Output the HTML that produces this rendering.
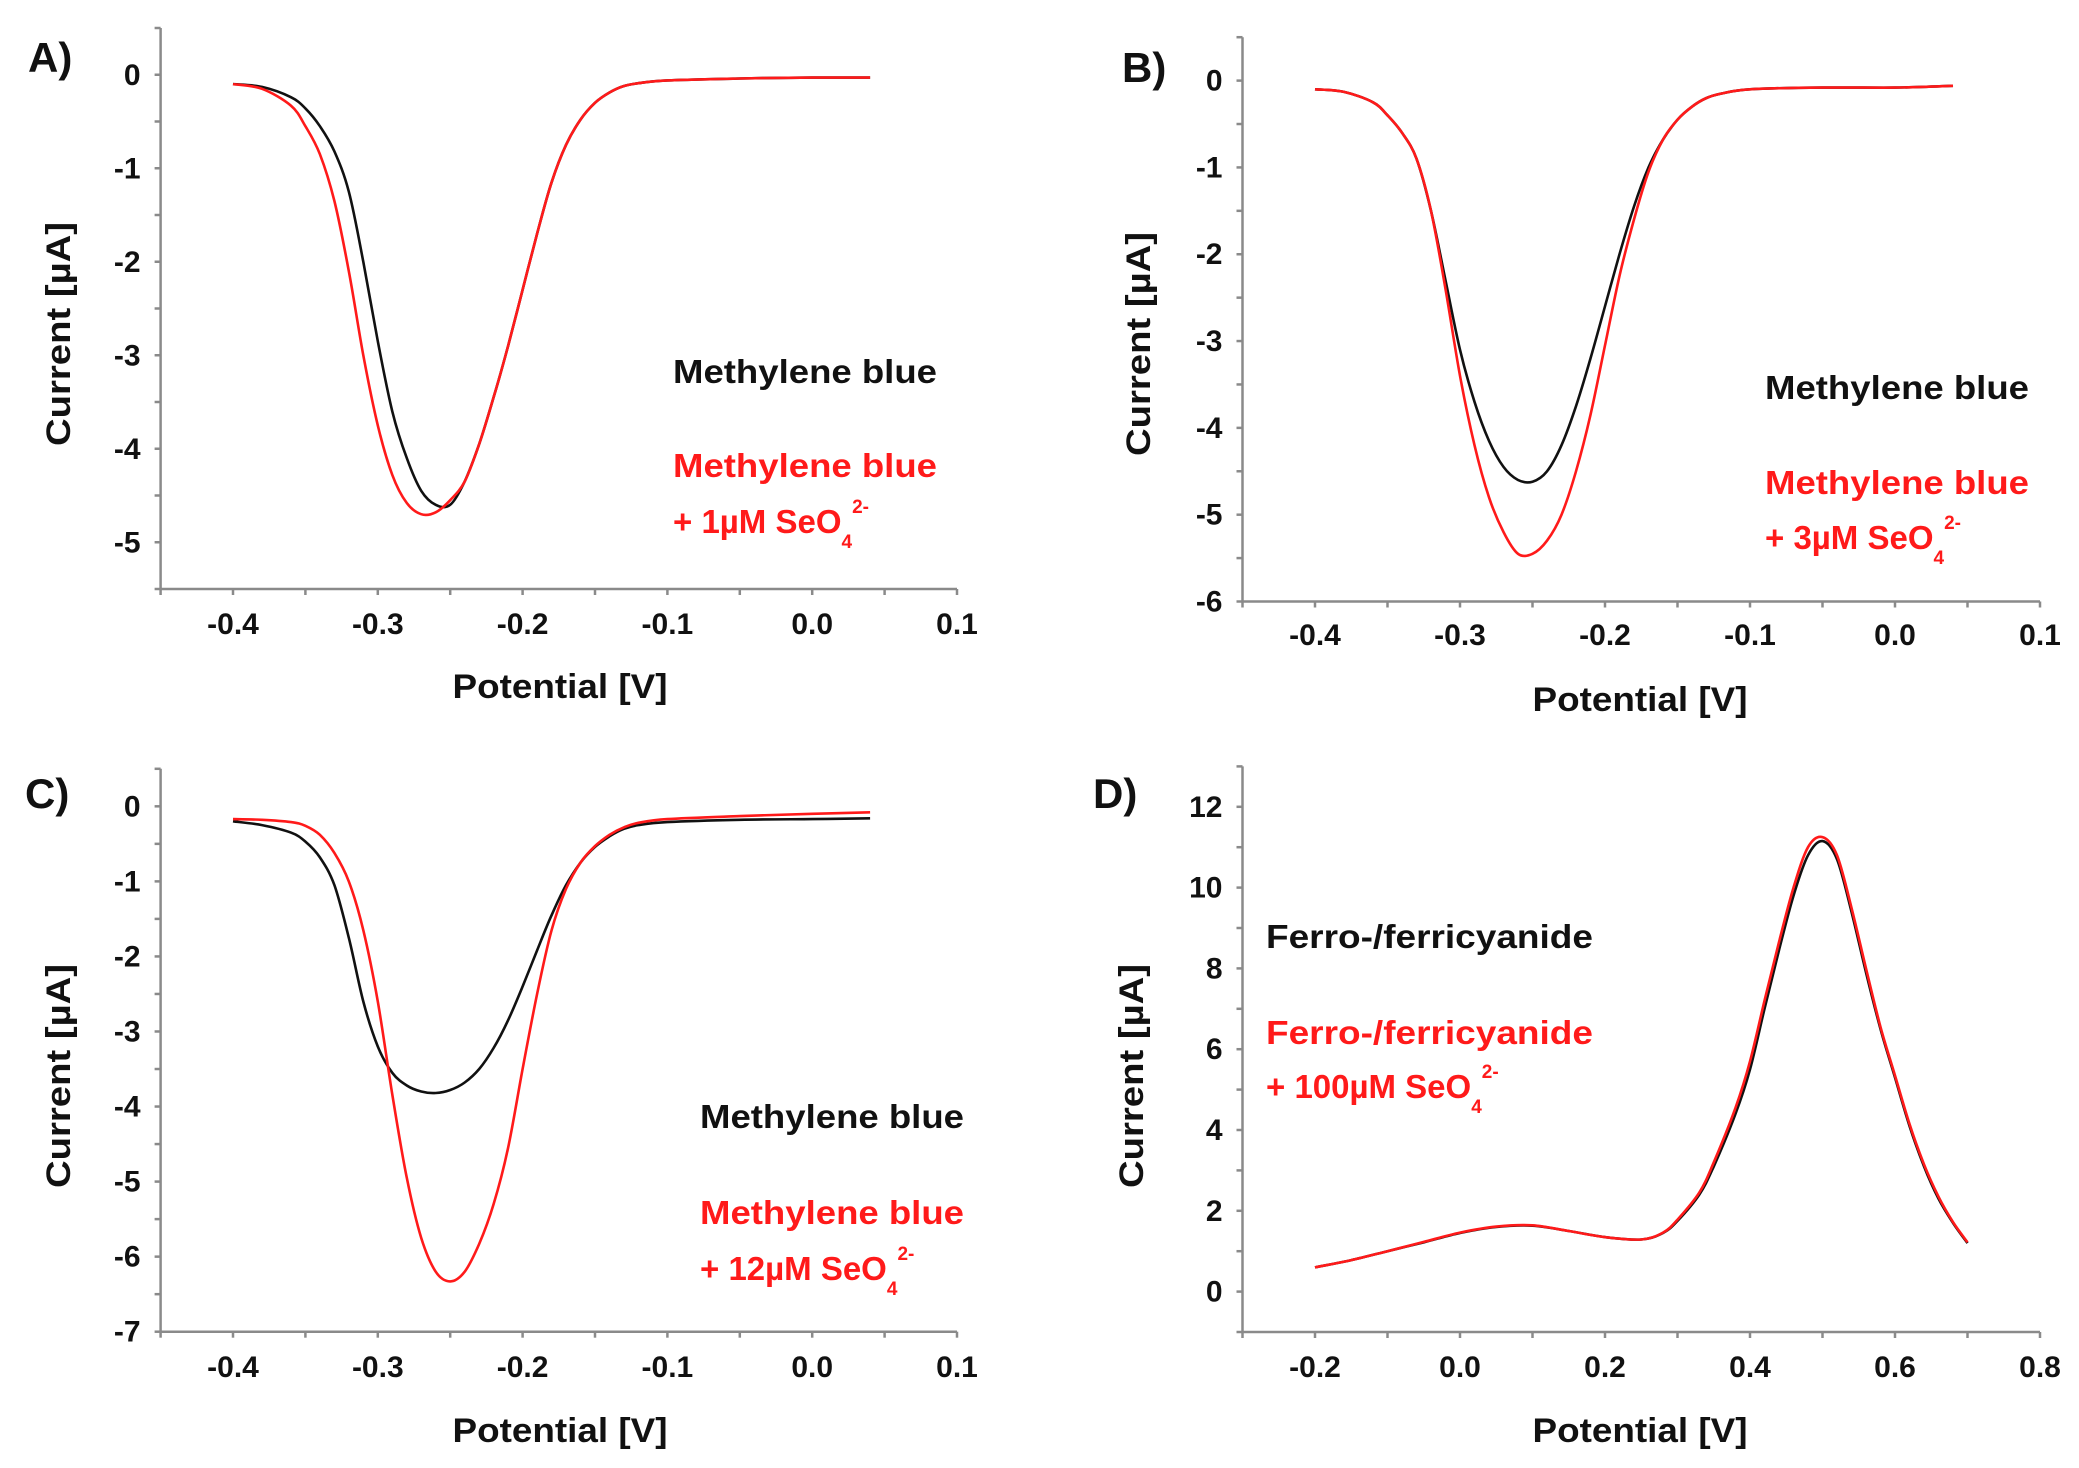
<!DOCTYPE html>
<html><head><meta charset="utf-8"><style>
html,body{margin:0;padding:0;background:#fff;}
svg{display:block;font-family:"Liberation Sans",sans-serif;font-weight:bold;}
</style></head><body>
<svg id="fig" width="2079" height="1468" viewBox="0 0 2079 1468"></svg>
<script>
// ---- Panel A data ----
const xA = [-0.40,-0.38,-0.36,-0.35,-0.34,-0.33,-0.32,-0.31,-0.30,-0.29,-0.28,-0.27,-0.26,-0.25,-0.24,-0.23,-0.22,-0.21,-0.20,-0.19,-0.18,-0.17,-0.16,-0.15,-0.14,-0.13,-0.12,-0.10,-0.05,0.00,0.04];
const blackA = [-0.1,-0.13,-0.24,-0.36,-0.55,-0.82,-1.25,-2.0,-2.85,-3.6,-4.1,-4.45,-4.6,-4.6,-4.35,-3.95,-3.45,-2.9,-2.3,-1.7,-1.15,-0.75,-0.48,-0.3,-0.19,-0.12,-0.09,-0.06,-0.04,-0.03,-0.03];
const redA = [-0.1,-0.15,-0.33,-0.55,-0.85,-1.35,-2.1,-3.0,-3.75,-4.28,-4.58,-4.7,-4.68,-4.55,-4.35,-3.95,-3.45,-2.9,-2.3,-1.7,-1.15,-0.75,-0.48,-0.3,-0.19,-0.12,-0.09,-0.06,-0.04,-0.03,-0.03];
// ---- Panel B data ----
const xB = [-0.40,-0.38,-0.36,-0.35,-0.34,-0.33,-0.32,-0.31,-0.30,-0.29,-0.28,-0.27,-0.26,-0.25,-0.24,-0.23,-0.22,-0.21,-0.20,-0.19,-0.18,-0.17,-0.16,-0.15,-0.14,-0.13,-0.12,-0.10,-0.05,0.00,0.04];
const blackB = [-0.1,-0.13,-0.25,-0.4,-0.6,-0.9,-1.5,-2.3,-3.1,-3.7,-4.15,-4.45,-4.6,-4.62,-4.5,-4.2,-3.75,-3.2,-2.6,-2.0,-1.45,-1.0,-0.68,-0.45,-0.3,-0.2,-0.15,-0.1,-0.08,-0.08,-0.06];
const redB = [-0.1,-0.13,-0.25,-0.4,-0.6,-0.9,-1.5,-2.4,-3.4,-4.2,-4.8,-5.2,-5.45,-5.45,-5.3,-5.0,-4.5,-3.85,-3.05,-2.25,-1.6,-1.05,-0.68,-0.45,-0.3,-0.2,-0.15,-0.1,-0.08,-0.08,-0.06];
// ---- Panel C data ----
const xC = [-0.40,-0.38,-0.36,-0.35,-0.34,-0.33,-0.32,-0.31,-0.30,-0.29,-0.28,-0.27,-0.26,-0.25,-0.24,-0.23,-0.22,-0.21,-0.20,-0.19,-0.18,-0.17,-0.16,-0.15,-0.14,-0.13,-0.12,-0.10,-0.05,0.00,0.04];
const blackC = [-0.2,-0.25,-0.35,-0.47,-0.68,-1.05,-1.75,-2.6,-3.2,-3.55,-3.72,-3.8,-3.82,-3.78,-3.68,-3.5,-3.22,-2.85,-2.4,-1.92,-1.45,-1.05,-0.75,-0.54,-0.4,-0.3,-0.25,-0.21,-0.18,-0.17,-0.16];
const redC = [-0.17,-0.18,-0.21,-0.26,-0.38,-0.62,-1.0,-1.65,-2.6,-3.84,-4.95,-5.75,-6.2,-6.33,-6.2,-5.83,-5.3,-4.55,-3.5,-2.5,-1.65,-1.1,-0.75,-0.53,-0.38,-0.28,-0.22,-0.17,-0.13,-0.1,-0.08];
// ---- Panel D data ----
const xD = [-0.2,-0.15,-0.1,-0.05,0.0,0.05,0.1,0.15,0.2,0.25,0.28,0.3,0.33,0.35,0.38,0.4,0.42,0.44,0.46,0.48,0.5,0.52,0.54,0.56,0.58,0.6,0.62,0.64,0.66,0.68,0.7];
const blackD = [0.6,0.78,1.0,1.22,1.45,1.6,1.63,1.5,1.35,1.29,1.45,1.75,2.4,3.1,4.4,5.5,7.0,8.45,9.8,10.8,11.15,10.7,9.4,7.9,6.5,5.3,4.1,3.1,2.3,1.7,1.2];
const redD = [0.6,0.78,1.0,1.23,1.46,1.61,1.64,1.5,1.35,1.29,1.46,1.78,2.45,3.2,4.55,5.7,7.2,8.65,10.0,11.0,11.25,10.8,9.5,8.0,6.55,5.35,4.15,3.15,2.35,1.72,1.22];

const xTicksMB = ["-0.4","-0.3","-0.2","-0.1","0.0","0.1"];
const xTicksD = ["-0.2","0.0","0.2","0.4","0.6","0.8"];
const yTicksA = ["0","-1","-2","-3","-4","-5"];
const yTicksB = ["0","-1","-2","-3","-4","-5","-6"];
const yTicksC = ["0","-1","-2","-3","-4","-5","-6","-7"];
const yTicksD = ["0","2","4","6","8","10","12"];

const NS="http://www.w3.org/2000/svg";
const svg=document.getElementById('fig');
function mk(tag,attrs,parent){const e=document.createElementNS(NS,tag);for(const k in attrs)e.setAttribute(k,attrs[k]);(parent||svg).appendChild(e);return e;}

function smoothPath(pts){
  let d="M"+pts[0][0].toFixed(1)+","+pts[0][1].toFixed(1);
  for(let i=0;i<pts.length-1;i++){
    const p0=pts[Math.max(0,i-1)],p1=pts[i],p2=pts[i+1],p3=pts[Math.min(pts.length-1,i+2)];
    const c1x=p1[0]+(p2[0]-p0[0])/6,c1y=p1[1]+(p2[1]-p0[1])/6;
    const c2x=p2[0]-(p3[0]-p1[0])/6,c2y=p2[1]-(p3[1]-p1[1])/6;
    d+=" C"+c1x.toFixed(1)+","+c1y.toFixed(1)+" "+c2x.toFixed(1)+","+c2y.toFixed(1)+" "+p2[0].toFixed(1)+","+p2[1].toFixed(1);
  }
  return d;
}

function panel(cfg){
  const g=mk('g',{});
  
  
  const sx=v=>cfg.px0+(v-cfg.xmin)/(cfg.xmax-cfg.xmin)*(cfg.px1-cfg.px0);
  const sy=v=>cfg.py1+(v-cfg.ymin)/(cfg.ymax-cfg.ymin)*(cfg.py0-cfg.py1);
  const ax='#8a8a8a';
  const yax=mk('line',{x1:cfg.px0,y1:cfg.py0,x2:cfg.px0,y2:cfg.py1,stroke:ax,'stroke-width':2.5},g);
  
  
  const xax=mk('line',{x1:cfg.px0,y1:cfg.py1,x2:cfg.px1,y2:cfg.py1,stroke:ax,'stroke-width':2.5},g);
  
  
  const nx=Math.round((cfg.xmax-cfg.xmin)/cfg.xminor);
  for(let i=0;i<=nx;i++){const v=cfg.xmin+i*cfg.xminor;const X=sx(v);
    mk('line',{x1:X,y1:cfg.py1,x2:X,y2:cfg.py1+6,stroke:ax,'stroke-width':2.5},g);}
  cfg.xt.forEach((lab,i)=>{const X=sx(parseFloat(lab));
    const t=mk('text',{x:X,y:cfg.xlabY,'text-anchor':'middle','font-size':30,fill:'#111'},g);t.textContent=lab;
    
    });
  const ny=Math.round((cfg.ymax-cfg.ymin)/cfg.yminor);
  for(let i=0;i<=ny;i++){const v=cfg.ymin+i*cfg.yminor;const Y=sy(v);
    mk('line',{x1:cfg.px0-6,y1:Y,x2:cfg.px0,y2:Y,stroke:ax,'stroke-width':2.5},g);}
  cfg.yt.forEach(lab=>{const Y=sy(parseFloat(lab));
    const t=mk('text',{x:cfg.px0-20,y:Y+10,'text-anchor':'end','font-size':30,fill:'#111'},g);t.textContent=lab;
    
    });
  const xt=mk('text',{x:cfg.xtX,y:cfg.xtY,'text-anchor':'middle','font-size':34,fill:'#111',textLength:215,lengthAdjust:'spacingAndGlyphs'},g);
  xt.textContent='Potential [V]';
  
  
  const yt=mk('text',{x:0,y:0,'text-anchor':'middle','font-size':34,fill:'#111',textLength:224,lengthAdjust:'spacingAndGlyphs',transform:`translate(${cfg.ytX},${cfg.ytY}) rotate(-90)`},g);
  yt.textContent='Current [\u00B5A]';
  
  
  const pl=mk('text',{x:cfg.plX,y:cfg.plY,'font-size':42,fill:'#111'},g);
  pl.textContent=cfg.label;
  
  
  const ser=[[cfg.xs,cfg.black,'#111','black-series'],[cfg.xs,cfg.red,'#ff1a1a','red-series']];
  ser.forEach(s=>{const pts=s[0].map((x,i)=>[sx(x),sy(s[1][i])]);
    const p=mk('path',{d:smoothPath(pts),fill:'none',stroke:s[2],'stroke-width':2.6},g);
    
    });
  const l1=mk('text',{x:cfg.lgX,y:cfg.lgY[0],'font-size':33,fill:'#111',textLength:cfg.lgW,lengthAdjust:'spacingAndGlyphs'},g);
  l1.textContent=cfg.lg1;
  
  
  const l2=mk('text',{x:cfg.lgX,y:cfg.lgY[1],'font-size':33,fill:'#ff1a1a',textLength:cfg.lgW,lengthAdjust:'spacingAndGlyphs'},g);
  l2.textContent=cfg.lg1;
  
  
  const l3=mk('text',{x:cfg.lgX,y:cfg.lgY[2],'font-size':33,fill:'#ff1a1a'},g);
  
  
  const a=mk('tspan',{},l3);a.textContent='+ '+cfg.conc+'\u00B5M SeO';
  const b=mk('tspan',{dy:15,'font-size':19},l3);b.textContent='4';
  const c=mk('tspan',{dy:-35,'font-size':19},l3);c.textContent='2-';
}

panel({name:'panel-a',label:'A)',plX:28,plY:72,px0:160.6,px1:957,xmin:-0.45,xmax:0.1,py0:28,py1:589,ymin:-5.5,ymax:0.5,xminor:0.05,yminor:0.5,xt:xTicksMB,yt:yTicksA,xlabY:634,xtX:560,xtY:698,ytX:70,ytY:334,xs:xA,black:blackA,red:redA,lg1:'Methylene blue',lgW:264,lgX:673,lgY:[383,477,533],conc:'1'});
panel({name:'panel-b',label:'B)',plX:1122,plY:82,px0:1242.5,px1:2040,xmin:-0.45,xmax:0.1,py0:37.2,py1:601.5,ymin:-6,ymax:0.5,xminor:0.05,yminor:0.5,xt:xTicksMB,yt:yTicksB,xlabY:645,xtX:1640,xtY:711,ytX:1150,ytY:344,xs:xB,black:blackB,red:redB,lg1:'Methylene blue',lgW:264,lgX:1765,lgY:[399,494,549],conc:'3'});
panel({name:'panel-c',label:'C)',plX:25,plY:808,px0:160.6,px1:957,xmin:-0.45,xmax:0.1,py0:768.8,py1:1331.7,ymin:-7,ymax:0.5,xminor:0.05,yminor:0.5,xt:xTicksMB,yt:yTicksC,xlabY:1377,xtX:560,xtY:1442,ytX:70,ytY:1076,xs:xC,black:blackC,red:redC,lg1:'Methylene blue',lgW:264,lgX:700,lgY:[1128,1224,1280],conc:'12'});
panel({name:'panel-d',label:'D)',plX:1093,plY:808,px0:1242.5,px1:2040,xmin:-0.3,xmax:0.8,py0:766.4,py1:1332,ymin:-1,ymax:13,xminor:0.1,yminor:1,xt:xTicksD,yt:yTicksD,xlabY:1377,xtX:1640,xtY:1442,ytX:1143,ytY:1076,xs:xD,black:blackD,red:redD,lg1:'Ferro-/ferricyanide',lgW:327,lgX:1266,lgY:[948,1044,1098],conc:'100'});
</script>
</body></html>
